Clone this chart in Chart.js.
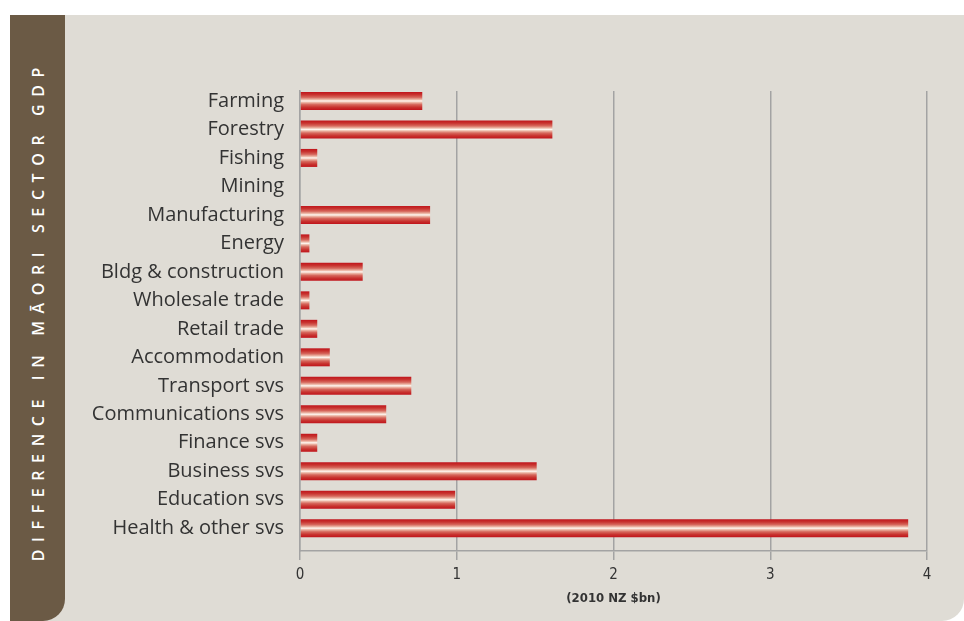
<!DOCTYPE html>
<html>
<head>
<meta charset="utf-8">
<script src="https://cdn.jsdelivr.net/npm/chart.js@4.4.1/dist/chart.umd.min.js"></script>
<style>
  html, body { margin: 0; padding: 0; background: #fff; }
  body { width: 964px; height: 621px; position: relative; overflow: hidden; }
  #panel {
    position: absolute; left: 10px; top: 15px; width: 954px; height: 606px;
    background: #dfdcd5; border-bottom-right-radius: 22px;
  }
  #side {
    position: absolute; left: 10px; top: 15px; width: 55px; height: 606px;
    background: #6b5a45; border-bottom-right-radius: 22px;
  }
  #sideText {
    position: absolute; left: 10px; top: 15px; width: 55px; height: 546px;
    display: flex; align-items: flex-end; justify-content: center;
  }
  #sideText span {
    writing-mode: vertical-rl; transform: rotate(180deg);
    color: #fff; font-family: "Open Sans", sans-serif; font-weight: 600;
    font-size: 16px; letter-spacing: 7.6px; white-space: nowrap;
  }
  #wrap { position: absolute; left: 67px; top: 15px; width: 897px; height: 606px; }
</style>
</head>
<body>
<div id="panel"></div>
<div id="side"></div>
<div id="sideText"><span>DIFFERENCE IN MĀORI SECTOR GDP</span></div>
<div id="wrap"><canvas id="gdpChart" width="897" height="606"></canvas></div>
<script>
// sectors, top to bottom
const sectors = [
    'Farming', 'Forestry', 'Fishing', 'Mining', 'Manufacturing', 'Energy',
    'Bldg & construction', 'Wholesale trade', 'Retail trade', 'Accommodation',
    'Transport svs', 'Communications svs', 'Finance svs', 'Business svs',
    'Education svs', 'Health & other svs'
];
// difference in sector GDP, 2010 NZ $bn
const gdpDiff = [0.78, 1.61, 0.11, 0, 0.83, 0.06, 0.40, 0.06, 0.11, 0.19, 0.71, 0.55, 0.11, 1.51, 0.99, 3.88];
const xTicks = [0, 1, 2, 3, 4];
const xTitle = '(2010 NZ $bn)';

const GRID = '#a3a3a3';
const BAR_H = 18;

function barFill(ctx) {
    const chart = ctx.chart;
    const y = chart.scales && chart.scales.y;
    if (!y || ctx.dataIndex == null) return '#c4161c';
    const yc = y.getPixelForValue(ctx.dataIndex);
    if (!Number.isFinite(yc)) return '#c4161c';
    const g = chart.ctx.createLinearGradient(0, yc - BAR_H / 2, 0, yc + BAR_H / 2);
    g.addColorStop(0, '#c0141b');
    g.addColorStop(0.15, '#c8332f');
    g.addColorStop(0.3, '#d6675c');
    g.addColorStop(0.42, '#ecb7a6');
    g.addColorStop(0.5, '#fff8f2');
    g.addColorStop(0.58, '#ecb7a6');
    g.addColorStop(0.7, '#d6675c');
    g.addColorStop(0.85, '#c8332f');
    g.addColorStop(1, '#c0141b');
    return g;
}

new Chart(document.getElementById('gdpChart'), {
    type: 'bar',
    data: {
        datasets: [{
            data: gdpDiff.map((v, i) => ({ x: v, y: i })),
            backgroundColor: barFill,
            borderWidth: 0,
            inflateAmount: 0,
            barThickness: BAR_H
        }]
    },
    options: {
        indexAxis: 'y',
        responsive: false,
        animation: false,
        layout: { padding: { left: 0, top: 76, right: 37, bottom: 15 } },
        plugins: { legend: { display: false }, tooltip: { enabled: false } },
        scales: {
            x: {
                type: 'linear',
                min: 0, max: 4,
                afterBuildTicks: s => { s.ticks = xTicks.map(v => ({ value: v })); },
                afterFit: s => { s.height = 55; },
                grid: { color: GRID, lineWidth: 1.5, tickLength: 9, drawTicks: true },
                border: { display: true, color: GRID, width: 1.5 },
                ticks: {
                    color: '#333',
                    padding: 6,
                    font: { family: '"Liberation Sans Narrow", "DejaVu Sans Condensed", sans-serif', size: 15 }
                },
                title: {
                    display: true,
                    text: xTitle,
                    color: '#333',
                    padding: { top: 6, bottom: 0 },
                    font: { family: '"Liberation Sans Narrow", "DejaVu Sans Condensed", sans-serif', size: 13, weight: 'bold' }
                }
            },
            y: {
                type: 'linear',
                reverse: true,
                offset: false,
                min: -0.35, max: 15.8,
                afterBuildTicks: s => { s.ticks = sectors.map((_, i) => ({ value: i })); },
                afterFit: s => { s.width = 233; },
                grid: { display: false, offset: false },
                border: { display: true, color: GRID, width: 1.5 },
                ticks: {
                    color: '#333',
                    padding: 8,
                    autoSkip: false,
                    callback: v => sectors[v],
                    font: { family: '"Open Sans", sans-serif', size: 20 }
                }
            }
        }
    }
});
</script>
</body>
</html>
